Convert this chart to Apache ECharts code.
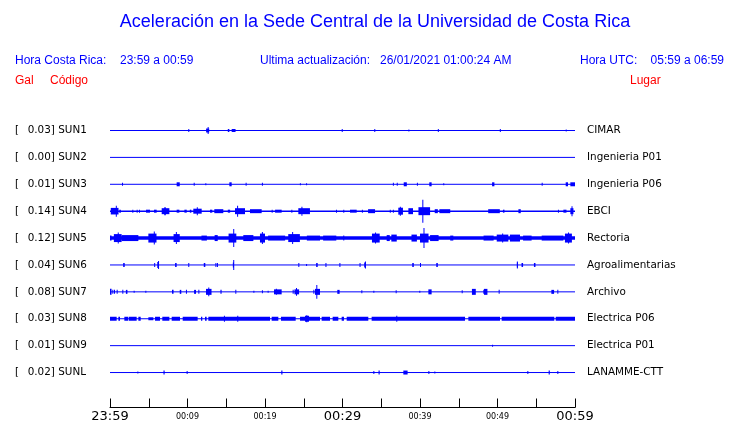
<!DOCTYPE html>
<html>
<head>
<meta charset="utf-8">
<title>Aceleración Sede Central</title>
<script src="https://cdn.jsdelivr.net/npm/echarts@6/dist/echarts.min.js"></script>
<style>
  html, body { margin: 0; padding: 0; background: #fff; }
  #main { width: 740px; height: 423px; }
</style>
</head>
<body>
<div id="main"></div>
<script>
// estaciones (de arriba hacia abajo)
var codes = ['SUN1', 'SUN2', 'SUN3', 'SUN4', 'SUN5', 'SUN6', 'SUN7', 'SUN8', 'SUN9', 'SUNL'];
var places = ['CIMAR', 'Ingenieria P01', 'Ingenieria P06', 'EBCI', 'Rectoria',
  'Agroalimentarias', 'Archivo', 'Electrica P06', 'Electrica P01', 'LANAMME-CTT'];
var peakGal = ['0.03', '0.00', '0.01', '0.14', '0.12', '0.04', '0.08', '0.03', '0.01', '0.02'];

// eje de tiempo: minutos desde 23:59, marcas cada 5 min
var tickLabels = ['23:59', '', '00:09', '', '00:19', '', '00:29', '', '00:39', '', '00:49', '', '00:59'];
var bigTicks = ['23:59', '00:29', '00:59'];

// rafagas de cada traza: [inicio (min), fin (min), amplitud]
var sun1 = [[10.1, 10.1, 1.5], [12.4, 12.8, 2], [12.6, 12.65, 3.5], [15.2, 15.4, 1.5], [15.7, 16.2, 1.5],
  [29.9, 29.9, 1.5], [34.1, 34.1, 1.5], [38.5, 38.5, 1], [42.3, 42.3, 1.5], [50.3, 50.3, 1.5], [58.8, 58.8, 1]];
var sun2 = [];
var sun3 = [[1.55, 1.55, 1.5], [8.6, 9.0, 2], [10.8, 10.8, 1.5], [12.3, 12.3, 1], [15.4, 15.7, 2],
  [17.5, 17.6, 1.5], [19.6, 19.6, 1.5], [24.5, 24.5, 1], [25.3, 25.3, 1], [36.5, 36.5, 1.5], [37.0, 37.0, 1.5],
  [37.9, 38.3, 2], [39.6, 39.6, 1.5], [41.2, 41.5, 2], [43.0, 43.0, 1], [49.3, 49.6, 2], [55.7, 55.7, 1.5],
  [58.8, 59.1, 2], [59.4, 60, 2]];
var sun4 = [[0.1, 1.1, 3.3], [0.75, 0.8, 5.5], [1.2, 1.4, 1.5], [2.88, 2.9, 1.5], [3.44, 3.46, 1.5],
  [3.74, 3.76, 1.5], [4.65, 5.16, 1.5], [5.68, 6.02, 1.5], [6.67, 7.66, 3], [7.0, 7.2, 4], [8.6, 8.95, 1.5],
  [9.6, 9.9, 1.5], [10.3, 10.5, 1.5], [10.75, 11.83, 2.5], [11.2, 11.3, 4], [12.9, 13.2, 1.5], [13.46, 14.62, 2],
  [15.2, 15.5, 1.5], [16.13, 17.42, 3], [16.4, 16.5, 5.5], [18.06, 19.57, 2], [20.86, 20.9, 1.5],
  [21.3, 22.15, 1.5], [23.4, 23.45, 1.5], [24.3, 25.8, 3], [24.7, 24.8, 4.5], [29.16, 29.2, 1.5],
  [30.1, 30.15, 1.5], [30.97, 31.83, 1.5], [32.5, 32.55, 1.5], [33.3, 34.2, 2], [36.1, 36.15, 1.5],
  [36.5, 36.55, 1.5], [37.2, 37.8, 3.5], [37.4, 37.5, 4.5], [38.5, 39.1, 3], [39.8, 41.3, 4], [40.3, 40.4, 11.5],
  [41.9, 42.3, 2], [42.5, 43.9, 2], [48.8, 50.3, 2], [50.7, 50.9, 1.5], [52.7, 53.0, 2], [57.8, 57.85, 1.5],
  [58.5, 58.9, 1.5], [59.4, 59.8, 3], [59.55, 59.65, 5]];
var sun5 = [[0, 0.2, 2.5], [0.5, 1.5, 4], [1.0, 1.1, 5.5], [1.5, 3.66, 3], [4.95, 6.0, 4.5], [5.65, 5.75, 6.5],
  [8.2, 9.0, 4], [8.5, 8.6, 6], [11.8, 12.5, 2.5], [13.5, 13.9, 3], [15.3, 16.3, 4.5], [15.9, 16.0, 9],
  [17.2, 18.5, 3], [19.35, 20.0, 4.5], [19.6, 19.7, 6], [20.4, 22.6, 2.5], [23.0, 24.5, 4], [23.5, 23.6, 6],
  [25.4, 27.1, 2.5], [27.5, 29.2, 2.5], [30.1, 30.2, 2.5], [33.8, 34.8, 4.5], [34.2, 34.3, 5.5],
  [35.7, 36.1, 3], [36.3, 37.0, 3.5], [38.9, 39.6, 3.5], [40.0, 41.1, 4.5], [40.45, 40.55, 10],
  [41.3, 42.4, 3], [43.9, 44.3, 2.5], [48.2, 49.5, 2.5], [49.9, 51.4, 3.5], [50.6, 50.7, 4.5],
  [51.6, 52.9, 3.5], [53.3, 54.4, 2.5], [55.7, 58.5, 2.5], [58.7, 59.6, 4.5], [59.1, 59.2, 5.5]];
var sun6 = [[1.7, 1.9, 2], [5.7, 5.72, 2], [6.1, 6.3, 3], [6.2, 6.25, 4], [8.4, 8.6, 2], [10.1, 10.12, 2],
  [12.1, 12.3, 2], [13.6, 13.62, 2], [13.8, 13.82, 2], [15.85, 16.0, 2.5], [15.9, 15.95, 5], [24.3, 24.32, 2],
  [25.3, 25.32, 1], [26.6, 26.8, 2], [27.8, 27.82, 2], [29.6, 29.62, 2], [32.2, 32.22, 2], [32.8, 33.0, 2.5],
  [32.9, 32.95, 3.5], [39.0, 39.2, 2], [40.0, 40.02, 2], [42.1, 42.3, 2], [52.5, 52.6, 2.5], [52.5, 52.55, 3.5],
  [53.1, 53.3, 2], [54.7, 54.9, 2]];
var sun7 = [[0, 0.2, 3], [0.3, 0.32, 2], [0.52, 0.54, 2], [0.86, 0.88, 2], [1.59, 1.61, 2], [2.05, 2.25, 2],
  [3.05, 3.06, 1], [4.56, 4.57, 1], [8.0, 8.2, 2], [9.0, 9.2, 2], [9.8, 9.82, 2], [10.85, 11.1, 2], [11.4, 11.42, 2],
  [12.39, 13.1, 3], [12.68, 12.78, 4.5], [14.25, 14.4, 2], [16.17, 16.19, 2], [18.5, 18.51, 1], [19.6, 19.62, 1.5],
  [20.34, 20.35, 1], [21.16, 22.15, 2.5], [21.4, 21.5, 3], [23.57, 23.59, 2], [23.8, 24.4, 2.5], [24.0, 24.08, 4],
  [26.24, 26.26, 2], [26.45, 27.1, 3], [26.62, 26.72, 7], [29.33, 29.63, 2], [32.43, 32.45, 1.5], [33.98, 33.99, 1],
  [36.86, 36.88, 1.5], [39.91, 39.92, 1], [41.08, 41.5, 2.5], [45.38, 45.4, 1.5], [46.7, 47.2, 3], [48.17, 48.19, 2],
  [48.26, 48.7, 3], [50.15, 50.17, 2], [56.95, 57.3, 2], [57.72, 57.74, 2]];
var sun8 = [[0, 0.86, 2], [1.08, 1.29, 2], [1.85, 2.37, 2], [2.45, 3.44, 2], [3.66, 3.96, 2], [4.95, 5.59, 1.5],
  [5.81, 6.45, 2], [6.75, 7.66, 2], [7.96, 9.03, 2], [9.38, 11.31, 2], [11.74, 11.91, 2], [12.26, 12.47, 2],
  [12.69, 20.65, 2], [14.7, 14.8, 3], [16.42, 16.52, 3], [20.86, 21.72, 2], [22.06, 23.96, 2], [24.52, 27.10, 2],
  [25.16, 25.68, 3], [25.33, 25.43, 3.5], [27.31, 28.39, 2], [28.73, 29.46, 2], [29.89, 30.19, 2], [30.54, 33.33, 2],
  [33.76, 45.81, 2], [36.94, 37.04, 3], [46.24, 50.32, 2], [50.54, 57.33, 2], [57.51, 60, 2]];
var sun9 = [[49.3, 49.32, 1]];
var sunl = [[3.53, 3.55, 1], [6.9, 7.05, 2], [9.89, 9.91, 1.5], [22.1, 22.25, 2], [33.98, 34.0, 1.5],
  [34.65, 34.8, 2], [37.85, 38.4, 2], [41.08, 41.1, 1.5], [41.85, 41.87, 1], [53.85, 53.87, 1.5],
  [56.6, 56.75, 2], [57.72, 57.74, 1.5]];
var traces = [sun1, sun2, sun3, sun4, sun5, sun6, sun7, sun8, sun9, sunl];

var BLUE = '#0000ff';
var RED = '#ff0000';
var ampPerRow = 27;
var baseWidth = [1, 1, 1, 1.4, 3.5, 1, 1, 1, 1, 1];

var burstData = [];
traces.forEach(function (tr, i) {
  tr.forEach(function (b) { burstData.push([i, b[0], b[1], b[2]]); });
});

var series = codes.map(function (c, i) {
  return {
    type: 'line', silent: true, symbol: 'none', animation: false,
    data: [[0, i], [60, i]],
    lineStyle: { color: BLUE, width: baseWidth[i] }
  };
});
series.push({
  type: 'custom', silent: true, animation: false,
  encode: { x: [1, 2], y: 0 },
  data: burstData,
  renderItem: function (params, api) {
    var row = api.value(0);
    var a = api.value(3) / ampPerRow;
    var p1 = api.coord([api.value(1), row - a]);
    var p2 = api.coord([api.value(2), row + a]);
    return {
      type: 'rect',
      shape: {
        x: p1[0], y: Math.min(p1[1], p2[1]),
        width: Math.max(p2[0] - p1[0], 1), height: Math.abs(p2[1] - p1[1])
      },
      style: { fill: BLUE }
    };
  }
});

var chart = echarts.init(document.getElementById('main'));
chart.setOption({
  backgroundColor: '#fff',
  animation: false,
  graphic: [
    { type: 'text', x: 375, y: 22, style: { text: 'Aceleración en la Sede Central de la Universidad de Costa Rica', fill: BLUE, font: '18px "Liberation Sans", Arial, sans-serif', textAlign: 'center', textVerticalAlign: 'middle' } },
    { type: 'text', x: 15, y: 61, style: { text: 'Hora Costa Rica:', fill: BLUE, font: '12px "Liberation Sans", Arial, sans-serif', textVerticalAlign: 'middle' } },
    { type: 'text', x: 120, y: 61, style: { text: '23:59 a 00:59', fill: BLUE, font: '12px "Liberation Sans", Arial, sans-serif', textVerticalAlign: 'middle' } },
    { type: 'text', x: 260, y: 61, style: { text: 'Ultima actualización:', fill: BLUE, font: '12px "Liberation Sans", Arial, sans-serif', textVerticalAlign: 'middle' } },
    { type: 'text', x: 380, y: 61, style: { text: '26/01/2021 01:00:24 AM', fill: BLUE, font: '12px "Liberation Sans", Arial, sans-serif', textVerticalAlign: 'middle' } },
    { type: 'text', x: 580, y: 61, style: { text: 'Hora UTC:', fill: BLUE, font: '12px "Liberation Sans", Arial, sans-serif', textVerticalAlign: 'middle' } },
    { type: 'text', x: 724, y: 61, style: { text: '05:59 a 06:59', fill: BLUE, font: '12px "Liberation Sans", Arial, sans-serif', textAlign: 'right', textVerticalAlign: 'middle' } },
    { type: 'text', x: 15, y: 81, style: { text: 'Gal', fill: RED, font: '12px "Liberation Sans", Arial, sans-serif', textVerticalAlign: 'middle' } },
    { type: 'text', x: 50, y: 81, style: { text: 'Código', fill: RED, font: '12px "Liberation Sans", Arial, sans-serif', textVerticalAlign: 'middle' } },
    { type: 'text', x: 630, y: 81, style: { text: 'Lugar', fill: RED, font: '12px "Liberation Sans", Arial, sans-serif', textVerticalAlign: 'middle' } }
  ],
  grid: { left: 110, right: 165, top: 130.5, height: 278, containLabel: false },
  xAxis: {
    type: 'value', min: 0, max: 60, interval: 5, position: 'bottom',
    splitLine: { show: false },
    axisLine: { onZero: false, lineStyle: { color: '#000', width: 1 } },
    axisTick: { inside: true, length: 9, lineStyle: { color: '#000' } },
    axisLabel: {
      margin: 2, showMinLabel: true, showMaxLabel: true, hideOverlap: false,
      formatter: function (v) {
        var t = tickLabels[Math.round(v / 5)] || '';
        if (!t) return '';
        return bigTicks.indexOf(t) >= 0 ? '{big|' + t + '}' : '{small|' + t + '}';
      },
      rich: {
        big: { fontFamily: 'DejaVu Sans', fontSize: 13, color: '#000', lineHeight: 14 },
        small: { fontFamily: 'DejaVu Sans', fontSize: 8, color: '#000', lineHeight: 14 }
      }
    }
  },
  yAxis: [{
    type: 'value', inverse: true, min: 0, max: 10.3, interval: 1, position: 'left',
    splitLine: { show: false }, axisLine: { show: false }, axisTick: { show: false },
    axisLabel: {
      margin: 95, align: 'left', showMaxLabel: false,
      formatter: function (v) {
        if (v < 0 || v > 9) return '';
        return '{b|[}{v|' + peakGal[v] + ']} {n|' + codes[v] + '}';
      },
      rich: {
        b: { width: 12.7, fontFamily: 'DejaVu Sans', fontSize: 10.4, color: '#000' },
        v: { fontFamily: 'DejaVu Sans', fontSize: 10.4, color: '#000' },
        n: { fontFamily: 'DejaVu Sans', fontSize: 10.4, color: '#000' }
      },
      fontFamily: 'DejaVu Sans', fontSize: 10.4, color: '#000'
    }
  }, {
    type: 'value', inverse: true, min: 0, max: 10.3, interval: 1, position: 'right',
    splitLine: { show: false }, axisLine: { show: false }, axisTick: { show: false },
    axisLabel: {
      margin: 12, showMaxLabel: false,
      formatter: function (v) { return (v >= 0 && v <= 9) ? places[v] : ''; },
      fontFamily: 'DejaVu Sans', fontSize: 10.4, color: '#000'
    }
  }],
  series: series
});
</script>
</body>
</html>
